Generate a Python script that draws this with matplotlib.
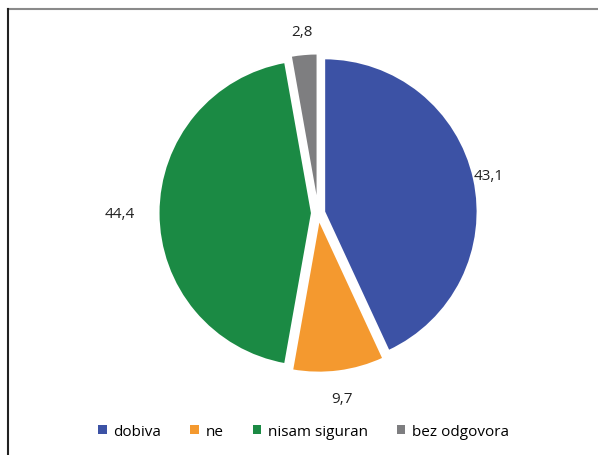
import numpy as np
import matplotlib.pyplot as plt
from matplotlib.lines import Line2D
from matplotlib.patches import Patch

categories = ["dobiva", "ne", "nisam siguran", "bez odgovora"]
values = [43.1, 9.7, 44.4, 2.8]
colors = ["#3C52A5", "#F4992F", "#1B8A44", "#7E7E80"]
# distance of each value label from the centre, in pie radii
label_dist = [1.14, 1.22, 1.29, 1.19]

plt.rcParams["font.family"] = ["Open Sans", "DejaVu Sans"]

fig = plt.figure(figsize=(5.98, 4.56), dpi=100)
ax = fig.add_axes([0.206, 0.103, 0.652, 0.855])

wedges, _ = ax.pie(
    values,
    colors=colors,
    startangle=90,
    counterclock=False,
    explode=[0.04] * len(values),
    wedgeprops=dict(edgecolor="white", linewidth=1.5),
)
for w, v, d in zip(wedges, values, label_dist):
    mid = np.deg2rad((w.theta1 + w.theta2) / 2)
    ax.text(d * np.cos(mid), d * np.sin(mid), f"{v:.1f}".replace(".", ","),
            ha="center", va="center", fontsize=11, color="#222222")

ax.set_xlim(-1.27, 1.27)
ax.set_ylim(-1.27, 1.27)
ax.set_aspect("equal")

handles = [Patch(facecolor=c, label=l) for c, l in zip(colors, categories)]
fig.legend(
    handles=handles,
    loc="center",
    bbox_to_anchor=(0.508, 0.052),
    ncol=4,
    frameon=False,
    fontsize=11,
    handlelength=0.55,
    handleheight=0.55,
    handletextpad=0.45,
    columnspacing=1.9,
)

# outer frame: top and left edges
fig.add_artist(Line2D([8 / 598, 1], [1 - 10 / 456, 1 - 10 / 456], transform=fig.transFigure, color="#8a8a8a", lw=1.5))
fig.add_artist(Line2D([8 / 598, 8 / 598], [0, 1 - 10 / 456], transform=fig.transFigure, color="#222222", lw=1.5))

fig.savefig("out.png", dpi=100)
